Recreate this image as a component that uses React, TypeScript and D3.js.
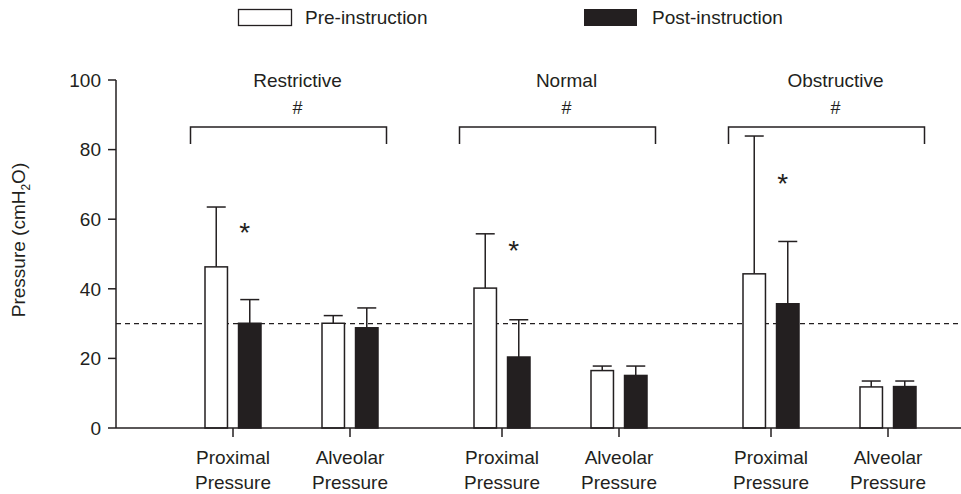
import React from "react";
import * as d3 from "d3";

const groups = ["Restrictive", "Normal", "Obstructive"];
const measures = ["Proximal", "Alveolar"];
const seriesNames = ["Pre-instruction", "Post-instruction"];
const preMean = [46.3, 30.1, 40.2, 16.5, 44.3, 11.8];
const preSD = [17.2, 2.2, 15.6, 1.3, 39.6, 1.7];
const postMean = [30.1, 28.8, 20.4, 15.1, 35.7, 11.9];
const postSD = [6.8, 5.7, 10.7, 2.7, 17.9, 1.6];
const yTicks = [0, 20, 40, 60, 80, 100];
const refLine = 30;
const starValue = [58, 53, 72];

const W = 961;
const H = 494;
const FONT = "'Liberation Sans', Arial, sans-serif";
const INK = "#231f20";
const FS = 19;

export default function App() {
  const y = d3.scaleLinear().domain([0, 100]).range([428, 80]);
  const xAxisLeft = 116;
  const gx = d3.scaleBand<string>().domain(groups).range([157, 964]);
  const mx = d3.scalePoint<string>().domain(measures).range([-58.5, 58.5]);
  const sx = d3.scaleBand<string>().domain(["pre", "post"]).range([-28, 28]).paddingInner(0.33);
  const gc = (g: string) => (gx(g) as number) + gx.bandwidth() / 2;

  const bars: any[] = [];
  groups.forEach((g, gi) => {
    measures.forEach((m, mi) => {
      const i = gi * 2 + mi;
      const cx = gc(g) + (mx(m) as number);
      bars.push({ key: `${g}-${m}-pre`, x: cx + (sx("pre") as number), mean: preMean[i], sd: preSD[i], fill: "#fff" });
      bars.push({ key: `${g}-${m}-post`, x: cx + (sx("post") as number), mean: postMean[i], sd: postSD[i], fill: INK });
    });
  });
  const bw = sx.bandwidth();

  return (
    <svg width={W} height={H} style={{ position: "absolute", left: 0, top: 0, background: "#fff" }} fontFamily={FONT}>
      {/* legend */}
      <rect x={238.5} y={9.5} width={53} height={16} fill="#fff" stroke={INK} strokeWidth={1.3} />
      <text x={305} y={24} fontSize={FS} fill={INK}>{seriesNames[0]}</text>
      <rect x={584} y={9} width={53} height={17} fill={INK} />
      <text x={652} y={24} fontSize={FS} fill={INK}>{seriesNames[1]}</text>

      {/* reference line */}
      <line x1={xAxisLeft} x2={W} y1={y(refLine)} y2={y(refLine)} stroke={INK} strokeWidth={1.3} strokeDasharray="5,4" />

      {/* bars */}
      {bars.map((b) => (
        <g key={b.key}>
          <line x1={b.x + bw / 2} x2={b.x + bw / 2} y1={y(b.mean)} y2={y(b.mean + b.sd)} stroke={INK} strokeWidth={1.5} />
          <line x1={b.x + bw / 2 - 9.5} x2={b.x + bw / 2 + 9.5} y1={y(b.mean + b.sd)} y2={y(b.mean + b.sd)} stroke={INK} strokeWidth={1.5} />
          <rect x={b.x} y={y(b.mean)} width={bw} height={y(0) - y(b.mean)} fill={b.fill} stroke={INK} strokeWidth={1.5} />
        </g>
      ))}

      {/* y axis */}
      <line x1={xAxisLeft} x2={xAxisLeft} y1={y(100)} y2={y(0)} stroke={INK} strokeWidth={1.5} />
      {yTicks.map((t) => (
        <g key={t}>
          <line x1={xAxisLeft - 8} x2={xAxisLeft} y1={y(t)} y2={y(t)} stroke={INK} strokeWidth={1.5} />
          <text x={xAxisLeft - 15} y={y(t)} dy="0.36em" textAnchor="end" fontSize={FS} fill={INK}>{t}</text>
        </g>
      ))}
      <text transform={`translate(25,240) rotate(-90)`} textAnchor="middle" fontSize={FS} fill={INK}>
        Pressure (cmH<tspan fontSize={12} dy="5">2</tspan><tspan dy="-5">O)</tspan>
      </text>

      {/* x axis */}
      <line x1={xAxisLeft} x2={W} y1={y(0)} y2={y(0)} stroke={INK} strokeWidth={1.5} />
      {groups.map((g) =>
        measures.map((m) => {
          const cx = gc(g) + (mx(m) as number);
          return (
            <g key={`${g}-${m}-tick`}>
              <line x1={cx} x2={cx} y1={y(0)} y2={y(0) + 9} stroke={INK} strokeWidth={1.5} />
              <text x={cx} y={464} textAnchor="middle" fontSize={FS} fill={INK}>{m}</text>
              <text x={cx} y={489} textAnchor="middle" fontSize={FS} fill={INK}>Pressure</text>
            </g>
          );
        })
      )}

      {/* group labels, brackets, stars */}
      {groups.map((g, gi) => {
        const c = gc(g);
        const postX = c + (mx(measures[0]) as number) + (sx("post") as number) + bw / 2;
        return (
          <g key={`${g}-label`}>
            <text x={c + 6} y={87} textAnchor="middle" fontSize={FS} fill={INK}>{g}</text>
            <text x={c + 6} y={114} textAnchor="middle" fontSize={18} fill={INK}>#</text>
            <path d={`M${c - 101},${144}V${127}H${c + 95}V${144}`} fill="none" stroke={INK} strokeWidth={1.5} />
            <text x={postX - 5} y={y(starValue[gi]) + 16} textAnchor="middle" fontSize={28} fill={INK}>*</text>
          </g>
        );
      })}
    </svg>
  );
}
